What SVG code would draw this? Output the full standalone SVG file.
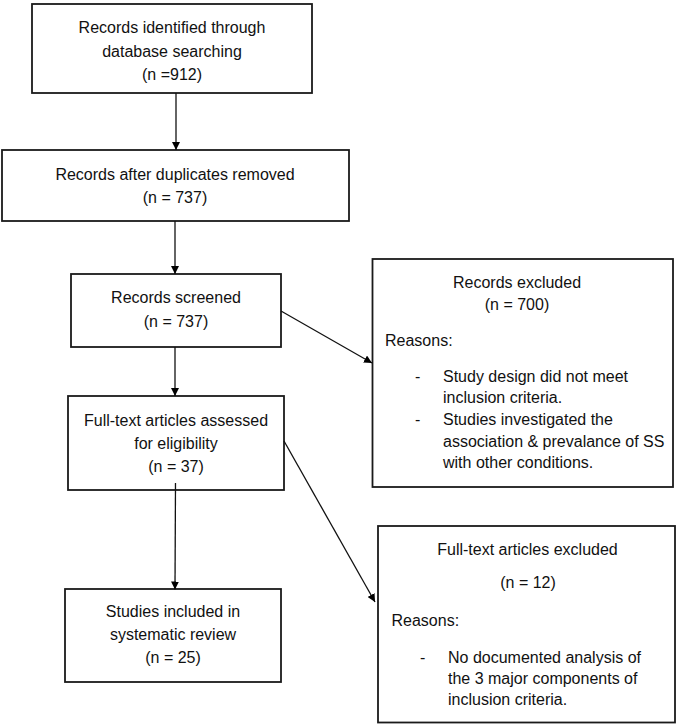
<svg xmlns="http://www.w3.org/2000/svg" width="678" height="725" viewBox="0 0 678 725">
<defs>
<marker id="ah" viewBox="0 0 10 10" refX="10" refY="5" markerWidth="8" markerHeight="8" markerUnits="userSpaceOnUse" orient="auto">
<path d="M0,0 L10,5 L0,10 z" fill="#000"/>
</marker>
<style>
rect{fill:#fff;stroke:#1a1a1a;stroke-width:1.8}
text{font-family:"Liberation Sans",Arial,sans-serif;font-size:16px;fill:#111}
.c{text-anchor:middle}
.e line{stroke:#111;stroke-width:1.3;marker-end:url(#ah)}
</style>
</defs>
<rect x="0" y="0" width="678" height="725" style="fill:#fff;stroke:none"/>
<g id="n1"><rect x="32" y="4" width="280" height="89"/>
<text class="c" x="172" y="33">Records identified through</text>
<text class="c" x="172" y="56.5">database searching</text>
<text class="c" x="172" y="80">(n =912)</text></g>
<g id="n2"><rect x="2" y="150" width="347" height="71"/>
<text class="c" x="175" y="180">Records after duplicates removed</text>
<text class="c" x="175" y="203">(n = 737)</text></g>
<g id="n3"><rect x="71" y="274" width="210" height="73"/>
<text class="c" x="176" y="303">Records screened</text>
<text class="c" x="176" y="326.5">(n = 737)</text></g>
<g id="n4"><rect x="68" y="396" width="216" height="94"/>
<text class="c" x="176" y="425.5">Full-text articles assessed</text>
<text class="c" x="176" y="448.5">for eligibility</text>
<text class="c" x="176" y="471.5">(n = 37)</text></g>
<g id="n5"><rect x="65" y="589" width="216" height="93"/>
<text class="c" x="173" y="616.5">Studies included in</text>
<text class="c" x="173" y="640">systematic review</text>
<text class="c" x="173" y="663">(n = 25)</text></g>
<g id="x1"><rect x="372.5" y="259" width="300.5" height="228"/>
<text class="c" x="517" y="287.5">Records excluded</text>
<text class="c" x="517" y="310">(n = 700)</text>
<text x="385" y="346">Reasons:</text>
<text x="415" y="381.5">-</text>
<text x="443" y="381.5">Study design did not meet</text>
<text x="443" y="403">inclusion criteria.</text>
<text x="415" y="425">-</text>
<text x="443" y="425">Studies investigated the</text>
<text x="443" y="446.5">association &amp; prevalance of SS</text>
<text x="443" y="468">with other conditions.</text></g>
<g id="x2"><rect x="378" y="526" width="297" height="196.5"/>
<text class="c" x="527.5" y="555">Full-text articles excluded</text>
<text class="c" x="528" y="588">(n = 12)</text>
<text x="391.5" y="625.5">Reasons:</text>
<text x="420" y="663">-</text>
<text x="448" y="663">No documented analysis of</text>
<text x="448" y="684">the 3 major components of</text>
<text x="448" y="705">inclusion criteria.</text></g>
<g class="e" id="edges">
<line x1="176" y1="93" x2="176" y2="150"/>
<line x1="175" y1="221" x2="175" y2="274"/>
<line x1="175" y1="347" x2="175" y2="396"/>
<line x1="281" y1="311" x2="372" y2="363"/>
<line x1="284" y1="441" x2="375" y2="602"/>
<line x1="175.5" y1="483" x2="175" y2="589.5"/>
</g>
</svg>
